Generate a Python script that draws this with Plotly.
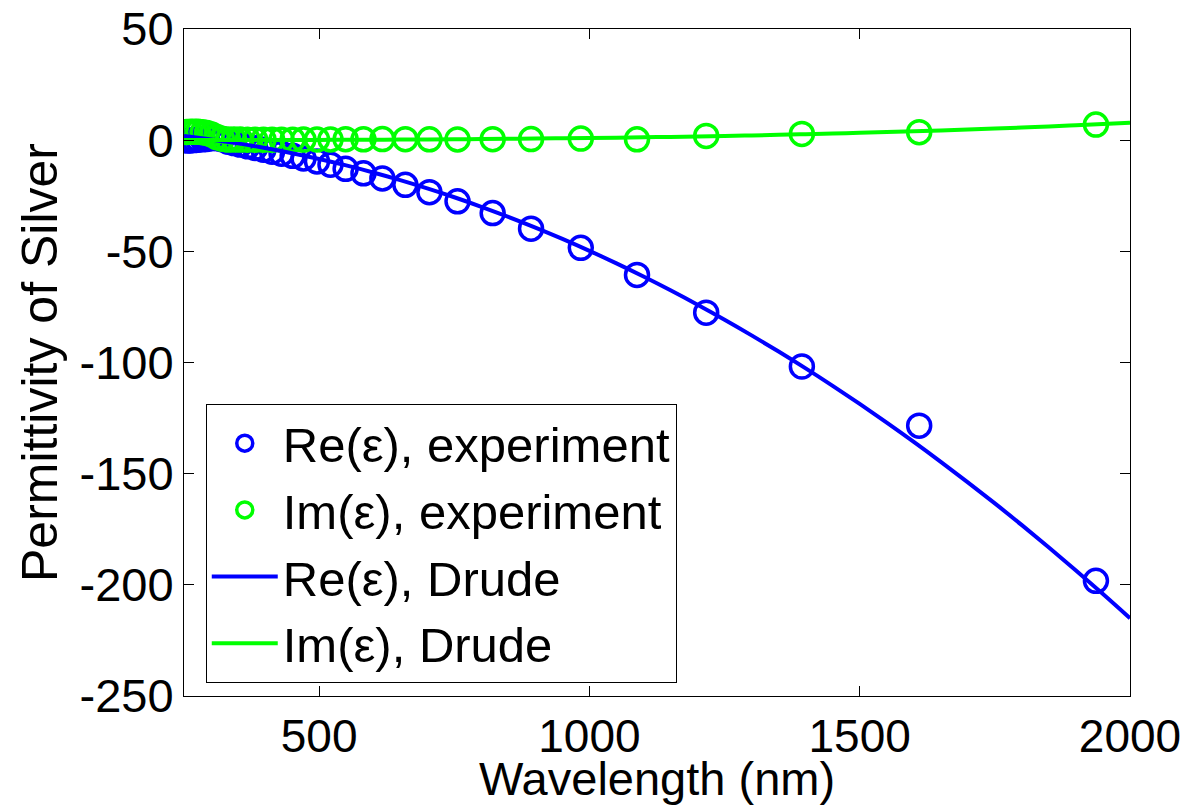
import plotly.graph_objects as go

# Experimental data (wavelength in nm)
wl_exp = [1937, 1610, 1393, 1216, 1088, 984, 892, 821, 756, 704, 659.5, 617, 582, 549,
          521, 496, 471, 451, 430.5, 413, 397, 381.5, 368, 354, 342.5, 331.5, 320,
          310.7, 301, 292.4, 284.4, 276, 269, 261.6, 255]
re_exp = [-198.2, -128.4, -101.8, -77.6, -60.6, -48.4, -39.8, -32.8, -27.5, -23.4, -20.1,
          -17.2, -14.9, -12.9, -11.05, -9.56, -8.23, -7.06, -6.06, -5.17, -4.28, -3.47,
          -2.74, -2.0, -1.28, -0.66, 0.5, 0.9, 0.87, 0.58, 0.39, 0.22, 0.02, -0.1, -0.17]
im_exp = [7.0, 3.6, 2.8, 1.9, 0.4, 0.7, 0.5, 0.46, 0.31, 0.39, 0.45, 0.5, 0.39, 0.43,
          0.33, 0.31, 0.29, 0.21, 0.2, 0.23, 0.21, 0.19, 0.23, 0.28, 0.32, 0.28, 0.64,
          1.39, 2.58, 3.23, 3.56, 3.75, 3.79, 3.74, 3.71]

# Drude model curves
wl_fit = [250, 300, 350, 400, 450, 500, 550, 600, 650, 700, 750, 800, 850, 900, 950, 1000,
          1050, 1100, 1150, 1200, 1250, 1300, 1350, 1400, 1450, 1500, 1550, 1600, 1650,
          1700, 1750, 1800, 1850, 1900, 1950, 2000]
re_fit = [1.86, 0.34, -1.45, -3.51, -5.85, -8.47, -11.36, -14.53, -17.97, -21.69, -25.68,
          -29.95, -34.50, -39.31, -44.41, -49.78, -55.43, -61.35, -67.54, -74.02, -80.76,
          -87.79, -95.08, -102.66, -110.51, -118.63, -127.03, -135.70, -144.66, -153.88,
          -163.38, -173.16, -183.21, -193.54, -204.14, -215.02]
im_fit = [0.02, 0.03, 0.04, 0.06, 0.09, 0.12, 0.16, 0.21, 0.27, 0.33, 0.41, 0.50, 0.60,
          0.71, 0.84, 0.98, 1.13, 1.30, 1.48, 1.68, 1.90, 2.14, 2.40, 2.68, 2.97, 3.29,
          3.63, 3.99, 4.38, 4.79, 5.23, 5.69, 6.17, 6.69, 7.23, 7.80]

x_ticks = [500, 1000, 1500, 2000]
y_ticks = [-250, -200, -150, -100, -50, 0, 50]

BLUE = "#0000FF"
GREEN = "#00FF00"
FONT = "Liberation Sans, Arial, sans-serif"

fig = go.Figure()
fig.add_trace(go.Scatter(x=wl_exp, y=re_exp, mode="markers", name="Re(ε), experiment",
                         marker=dict(symbol="circle-open", size=23, color=BLUE,
                                     line=dict(width=3.5, color=BLUE))))
fig.add_trace(go.Scatter(x=wl_exp, y=im_exp, mode="markers", name="Im(ε), experiment",
                         marker=dict(symbol="circle-open", size=23, color=GREEN,
                                     line=dict(width=3.5, color=GREEN))))
fig.add_trace(go.Scatter(x=wl_fit, y=re_fit, mode="lines", name="Re(ε), Drude",
                         line=dict(color=BLUE, width=4, shape="spline")))
fig.add_trace(go.Scatter(x=wl_fit, y=im_fit, mode="lines", name="Im(ε), Drude",
                         line=dict(color=GREEN, width=4, shape="spline")))

axis_common = dict(showline=True, linecolor="black", linewidth=1, mirror="ticks",
                   ticks="inside", ticklen=10, tickcolor="black", tickwidth=1,
                   showgrid=False, zeroline=False, automargin=False)

fig.update_xaxes(range=[250, 2000], tickvals=x_ticks,
                 tickfont=dict(family=FONT, size=46, color="black"),
                 **axis_common)
fig.update_yaxes(range=[-250, 50], tickvals=y_ticks,
                 ticktext=[str(v) for v in y_ticks],
                 tickfont=dict(family=FONT, size=47, color="black"),
                 title=dict(text="Permittivity of Silver",
                            font=dict(family=FONT, size=50, color="black"), standoff=6),
                 **axis_common)

fig.add_annotation(text="Wavelength (nm)", xref="paper", yref="paper",
                   x=0.5, y=-0.167, xanchor="center", yanchor="bottom",
                   showarrow=False, font=dict(family=FONT, size=47, color="black"))

fig.update_layout(
    width=1191, height=806,
    margin=dict(l=184, r=61, t=29, b=110),
    paper_bgcolor="white", plot_bgcolor="white",
    font=dict(family=FONT, color="black"),
    legend=dict(x=0.023, y=0.438, xanchor="left", yanchor="top",
                bgcolor="white", bordercolor="black", borderwidth=1,
                font=dict(family=FONT, size=49, color="black"),
                itemwidth=66, tracegroupgap=0),
    showlegend=True,
)

fig.write_html("out.html")
